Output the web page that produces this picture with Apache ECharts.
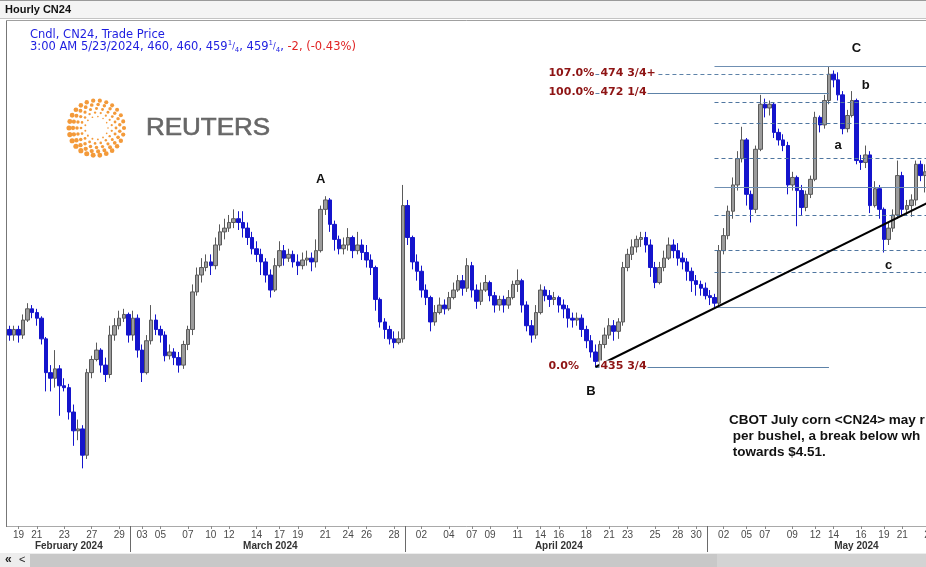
<!DOCTYPE html>
<html><head><meta charset="utf-8">
<script src="https://cdn.jsdelivr.net/npm/echarts@6.0.0/dist/echarts.min.js"></script>
<style>html,body{margin:0;padding:0;background:#fff}#c{width:926px;height:567px}</style>
</head><body><div id="c"></div>
<script>
// ---------- DATA ----------
// trading dates shown on the axis and how many candle slots each one spans
const dayDefs = [
 ['02-16',2],['02-19',1],['02-20',3],['02-21',3],['02-22',3],['02-23',2],['02-25',1],['02-26',3],['02-27',3],['02-28',3],['02-29',3],
 ['03-01',2],['03-03',1],['03-04',3],['03-05',3],['03-06',3],['03-07',3],['03-08',2],['03-10',1],['03-11',3],['03-12',3],['03-13',3],['03-14',3],['03-15',2],['03-17',1],['03-18',3],['03-19',3],['03-20',3],['03-21',3],['03-22',2],['03-24',1],['03-25',3],['03-26',3],['03-27',3],['03-28',2],['03-31',1],
 ['04-01',3],['04-02',3],['04-03',3],['04-04',3],['04-05',2],['04-07',1],['04-08',3],['04-09',3],['04-10',3],['04-11',3],['04-12',2],['04-14',1],['04-15',3],['04-16',3],['04-17',3],['04-18',3],['04-19',2],['04-21',1],['04-22',3],['04-23',3],['04-24',3],['04-25',3],['04-26',2],['04-28',1],['04-29',3],['04-30',3],
 ['05-01',3],['05-02',3],['05-03',2],['05-05',1],['05-06',3],['05-07',3],['05-08',3],['05-09',3],['05-10',2],['05-12',1],['05-13',3],['05-14',3],['05-15',3],['05-16',3],['05-17',2],['05-19',1],['05-20',3],['05-21',3],['05-22',3],['05-23',1]
];
const labelDays = ['02-19','02-21','02-23','02-27','02-29','03-03','03-05','03-07','03-10','03-12','03-14','03-17','03-19','03-21','03-24','03-26','03-28',
 '04-02','04-04','04-07','04-09','04-11','04-14','04-16','04-18','04-21','04-23','04-25','04-28','04-30',
 '05-02','05-05','05-07','05-09','05-12','05-14','05-16','05-19','05-21','05-23'];
const monthStarts = ['03-01','04-01','05-01'];
const monthLabels = [['February 2024','02-23.1'],['March 2024','03-15.0'],['April 2024','04-16.0'],['May 2024','05-15.2']];

const opens = [440.75,440,440.75,440,442,443.5,443,442.25,439.5,435,
434.25,435.5,433.25,433,429.75,427.25,427.5,424,435,436.75,
438,436,434.75,440,441.25,442.25,442.75,440,442.25,438,
435,439.25,442,440.75,440,437.25,437.75,437,436,438.75,
440.75,445.75,448,449,449.75,449.25,452,453.75,454.25,455,
455.5,455,454.25,453,451.5,450.75,449.75,448,446,449.25,
451.25,450.25,450.75,449.75,449.25,450,450.25,449.75,451.25,456.75,
458,454.75,452.75,451.5,452,453,451.25,452,451,450,
449,444.75,441.75,440.75,439.5,439,439.5,457.25,453,449.75,
448.5,446,445,441.75,443,444,443.5,445,446,447.25,
446.25,449.25,446,444.5,446,447,445.25,444,444.75,444,
445,446.75,447.25,444,441.25,440,443,446,445.25,444.75,
445,444,443.5,442.25,442,442.25,440.75,439.25,437.75,436.5,
438.75,440,441.25,440.5,441.75,449,450.75,451.75,452.75,453,
452,449,447,449,450.25,452,451.25,450.25,449.75,448.5,
447.25,446.75,446.25,445.25,445,444.25,451.25,453.25,456.5,460,
463.5,466,458.75,456.75,464.75,470.75,470.25,470.75,467,466,
465.25,460,461,459.25,457,458.75,460.75,469,468,471.25,
474.75,474,472,467.5,469.25,471.25,463.25,463,464,457.25,
459.5,456.75,452.75,454.25,456,461.25,456.75,457.25,458,462.75,
461.25,461.75];
const closes = [440,440.75,440,442,443.5,443,442.25,439.5,435,434.25,
435.5,433.25,433,429.75,427.25,427.5,424,435,436.75,438,
436,434.75,440,441.25,442.25,442.75,440,442.25,438,435,
439.25,442,440.75,440,437.25,437.75,437,436,438.75,440.75,
445.75,448,449,449.75,449.25,452,453.75,454.25,455,455.5,
455,454.25,453,451.5,450.75,449.75,448,446,449.25,451.25,
450.25,450.75,449.75,449.25,450,450.25,449.75,451.25,456.75,458,
454.75,452.75,451.5,452,453,451.25,452,451,450,449,
444.75,441.75,440.75,439.5,439,439.5,457.25,453,449.75,448.5,
446,445,441.75,443,444,443.5,445,446,447.25,446.25,
449.25,446,444.5,446,447,445.25,444,444.75,444,445,
446.75,447.25,444,441.25,440,443,446,445.25,444.75,445,
444,443.5,442.25,442,442.25,440.75,439.25,437.75,436.5,438.75,
440,441.25,440.5,441.75,449,450.75,451.75,452.75,453,452,
449,447,449,450.25,452,451.25,450.25,449.75,448.5,447.25,
446.75,446.25,445.25,445,444.25,451.25,453.25,456.5,460,463.5,
466,458.75,456.75,464.75,470.75,470.25,470.75,467,466,465.25,
460,461,459.25,457,458.75,460.75,469,468,471.25,474.75,
474,472,467.5,469.25,471.25,463.25,463,464,457.25,459.5,
456.75,452.75,454.25,456,461.25,456.75,457.25,458,462.75,461.25,
461.75,460];
const lows = [439.25,439.25,439,439.5,441.75,442.25,441.25,438.75,432.5,432.5,
433,429.25,432.5,428.75,425.25,426,422.25,423.5,434.25,436.5,
435,433.75,434.25,439.25,440.75,441.75,439,439.25,437,433.75,
434.75,438.75,440,439,436.5,436.75,436,435,435.5,438,
440,445.25,447,448.5,448,448.75,451.25,452.75,453.75,454.25,
454,453,452,450.75,449.75,448,447,445,445.75,449,
449.25,449.75,449,448,448.75,449.25,448.5,449,451,456,
453.75,451.25,450.75,450.75,451.25,450.25,450.75,450,449,448,
443.25,441,439.5,438.75,438.25,438.75,439,452,448.75,447.25,
445,444,440.5,441.25,442.75,442.75,443.25,444.75,445.75,445.25,
445.75,445,443.5,444,445.75,444.5,443,443.25,443,443.5,
444.75,445.75,443,440.5,439,439.5,442.75,444.5,443.75,444,
443,442.25,441,441,441.25,439.75,438.25,437,435.75,435.75,
438.25,439.5,439.25,439.5,441.25,448.5,450,451,451.75,451,
447.75,446.25,446.75,448.5,450,450.25,449.25,448.75,447.25,445.75,
445.25,445.25,444.75,444,443.75,443.75,450.75,452.75,455.5,459.25,
463,457.25,455,456.25,464.5,469,469.25,466.25,465.25,464.5,
458.75,459.25,454.5,456,456.5,458.25,460.5,467,467.5,470.75,
473,471.25,466.75,467,469,462.75,462,462.25,456.25,457,
455.5,451,452,453.75,455.5,456,456,455.75,457.25,460.5,
459,459.25];
const highs = [441.25,441.25,441.25,442.75,444.25,444,443.5,442.5,439.75,436,
438,436,434.25,433.5,430.75,428.75,428,435.5,437.25,439,
438.25,437,441.25,442.25,443.25,443.5,443,443.25,442.75,438.75,
440,444,442.75,441.25,440.5,438.75,438.25,437.75,439.25,441.25,
446.75,449,450.25,450.75,450.75,453,454.75,455.5,456,456.75,
456.5,456.5,455,453.75,452.5,451.5,450.25,448.75,450.25,452.5,
452,451.5,451.25,450.75,451,451.25,451,452.75,457.25,458.5,
458.25,455.25,453.25,453,454.25,453.25,453.75,452.75,452,450.75,
449.25,445,442.25,441.25,440.5,440.5,460,458,453.25,450.75,
449.25,446.75,445.25,444,445,444.75,445.75,447,448,448,
450.25,449.75,446.75,447,448,447.25,445.75,445.25,445.25,446,
447.25,448.75,447.5,444.5,442,444,446.75,446.5,446,445.75,
445.25,444.75,444,443,443,442.75,441.25,440,438.75,439.25,
441,442.25,442,442.25,449.75,451.5,452.75,453.25,453.75,453.75,
452.75,449.75,449.75,451.25,453,452.75,452.25,451,450.25,449,
448,447.25,447,446,445.5,452,454.25,457.25,461,464.5,
467.75,466.25,459.25,465.25,472,471.5,471.25,471,467.5,466.75,
465.75,461.75,461.25,460,459.25,461.25,469.75,469.25,472,475.75,
475.25,475,472.5,470,472.5,471.5,464,465.25,464.5,460.5,
460,457,455,456.75,463.25,461.75,458,458.75,463.25,463.25,
462.75,462.25];

// Fibonacci swing B -> C (0 %, 100 %, 107 %)
const fibB = {from:'04-18.2', to:'05-13.2', low:435.75, high:472.25};
const fibBLevels = [[0,'0.0%','435 3/4'],[1,'100.0%','472 1/4'],[1.07,'107.0%','474 3/4+']];
// Fibonacci retracement of the rally from the 1 May low to the C top
const fib2 = {from:'05-01.1', to:'05-23.0', low:443.75, high:475.75};
const fib2Ratios = [0,0.146,0.236,0.382,0.5,0.618,0.764,0.854,1];
// trend line from B
const trend = [['04-18.2',435.75],['05-23.0',457.75]];
// Elliott wave letters
const waveLabels = [['A','03-20.2',460.75],['B','04-18.1',432.5],['C','05-15.2',478.25],['a','05-14.1',465.25],['b','05-16.1',473.25],['c','05-20.0',449.25]];
const headerLine1 = 'Cndl, CN24, Trade Price';
const noteLines = ['CBOT July corn <CN24> may r',' per bushel, a break below wh',' towards $4.51.'];

// ---------- BUILD ----------
const cats = [];
dayDefs.forEach(([d,n]) => { for (let k = 0; k < n; k++) cats.push(d + '.' + k); });
const labelSet = new Set(labelDays.map(d => d + '.0'));
const monthStartSet = new Set(monthStarts.map(d => d + '.0'));
const monthLabelMap = Object.fromEntries(monthLabels.map(([t,c]) => [c,t]));
const candles = opens.map((o,i) => [o, closes[i], lows[i], highs[i]]);

const FIBC = '#5d82a8', FIBTXT = '#8e1414';
const fibLines = [];
const fibTexts = [];
fibBLevels.forEach(([r,pct,price]) => {
  const v = fibB.low + r * (fibB.high - fibB.low);
  fibLines.push([{coord:[fibB.from, v], lineStyle:{color:FIBC, width:1, type: r === 1.07 ? [4,3] : 'solid'}}, {coord:[fibB.to, v]}]);
  fibTexts.push({coord:[fibB.from, v], label:{formatter:pct, position:[-46.5,0]}});
  fibTexts.push({coord:[fibB.from, v], label:{formatter:price, position:[4.5,0], backgroundColor:'#ffffff', padding:[1,1,0,1]}});
});
fib2Ratios.forEach(r => {
  const v = fib2.low + r * (fib2.high - fib2.low);
  const solid = (r === 0 || r === 0.5 || r === 1);
  fibLines.push([{coord:[fib2.from, v], lineStyle:{color: solid ? '#6f8fb2' : '#4f76a0', width:1, type: solid ? 'solid' : [4,3]}}, {coord:[fib2.to, v]}]);
});

// Reuters logo dots
const logo = [];
const LX = 96.5, LY = 128;
[[11.5,13,0.9],[15.5,17,1.25],[19.5,20,1.6],[23.5,23,1.95],[27.5,26,2.3]].forEach(([r,n,s],ri) => {
  for (let k = 0; k < n; k++) {
    const a = (k + (ri % 2) * 0.5) / n * Math.PI * 2;
    const f = 1 + 0.12 * Math.cos(a - Math.PI * 0.8);
    logo.push({type:'circle', silent:true, z:5, shape:{cx: LX + r * Math.cos(a), cy: LY + r * Math.sin(a), r: s * f}, style:{fill:'#f39a3a'}});
  }
});

const chart = echarts.init(document.getElementById('c'), null, {renderer:'canvas'});
const option = {
  animation:false,
  backgroundColor:'#ffffff',
  grid:{left:7, right:-6, top:30, bottom:41, outerBoundsMode:'none', containLabel:false},
  xAxis:[{
    type:'category', data:cats, boundaryGap:true,
    axisLine:{show:true, lineStyle:{color:'#a9a9a9', width:1}},
    axisTick:{show:true, interval:(i,v) => labelSet.has(v), alignWithLabel:true, length:3, lineStyle:{color:'#8a8a8a'}},
    axisLabel:{interval:(i,v) => labelSet.has(v), formatter:v => v.slice(3,5), color:'#4a4a4a', fontFamily:'Liberation Sans', fontSize:10, margin:4, hideOverlap:false},
    splitLine:{show:false}
  },{
    type:'category', data:cats, boundaryGap:true, position:'bottom',
    axisLine:{show:false},
    axisTick:{show:true, interval:(i,v) => monthStartSet.has(v), alignWithLabel:false, length:26, lineStyle:{color:'#6a6a6a'}},
    axisLabel:{interval:(i,v) => v in monthLabelMap, formatter:v => monthLabelMap[v] || '', color:'#333333', fontWeight:'bold', fontFamily:'Liberation Sans', fontSize:10, margin:15, hideOverlap:false},
    splitLine:{show:false}
  }],
  yAxis:{type:'value', min:414.57, max:480.64, show:false, splitLine:{show:false}},
  series:[{
    type:'scatter', data:[], z:1, silent:true,
    markLine:{silent:true, symbol:['none','none'], label:{show:false}, animation:false, data:fibLines}
  },{
    type:'candlestick', data:candles, barWidth:4, z:2,
    itemStyle:{color:'#9c9c9c', color0:'#1414cc', borderColor:'#5a5a5a', borderColor0:'#1414cc', borderWidth:1}
  },{
    type:'scatter', data:[], z:4, silent:true,
    markLine:{silent:true, symbol:['none','none'], label:{show:false}, animation:false,
      data:[[{coord:trend[0], lineStyle:{color:'#000', width:2, type:'solid'}}, {coord:trend[1]}]]}
  },{
    type:'scatter', data:[], z:6, silent:true,
    markPoint:{silent:true, symbol:'rect', symbolSize:1, itemStyle:{color:'rgba(0,0,0,0)'}, animation:false,
      label:{show:true, color:FIBTXT, fontFamily:'DejaVu Sans', fontWeight:'bold', fontSize:11, align:'left', verticalAlign:'middle'},
      data:fibTexts}
  },{
    type:'scatter', data:[], z:6, silent:true,
    markPoint:{silent:true, symbol:'rect', symbolSize:1, itemStyle:{color:'rgba(0,0,0,0)'}, animation:false,
      label:{show:true, position:'inside', color:'#111', fontFamily:'Liberation Sans', fontWeight:'bold', fontSize:13},
      data:waveLabels.map(([t,c,v]) => ({coord:[c,v], label:{formatter:t}}))}
  }],
  graphic:[
    {type:'rect', z:-5, silent:true, shape:{x:0,y:0,width:926,height:19}, style:{fill:'#f4f4f4'}},
    {type:'line', z:10, silent:true, shape:{x1:0,y1:0.5,x2:926,y2:0.5}, style:{stroke:'#9a9a9a', lineWidth:1}},
    {type:'line', z:10, silent:true, shape:{x1:0,y1:18.5,x2:926,y2:18.5}, style:{stroke:'#c4c4c4', lineWidth:1}},
    {type:'line', z:10, silent:true, shape:{x1:6.5,y1:20.5,x2:926,y2:20.5}, style:{stroke:'#a0a0a0', lineWidth:1}},
    {type:'line', z:10, silent:true, shape:{x1:6.5,y1:20.5,x2:6.5,y2:527}, style:{stroke:'#777777', lineWidth:1}},
    {type:'text', z:10, silent:true, x:5, y:10, style:{text:'Hourly CN24', fill:'#111', font:'bold 11px "Liberation Sans"', verticalAlign:'middle'}},
    {type:'text', z:10, silent:true, x:30, y:35, style:{text:headerLine1, fill:'#1d1de0', font:'11.5px "DejaVu Sans"', verticalAlign:'middle'}},
    {type:'text', z:10, silent:true, x:30, y:47, style:{
      text:'{b|3:00 AM 5/23/2024, 460, 460, 459}{s|1}{f|/}{u|4}{b|, 459}{s|1}{f|/}{u|4}{b|, }{r|-2, (-0.43%)}',
      verticalAlign:'middle',
      rich:{
        b:{fill:'#1d1de0', fontFamily:'DejaVu Sans', fontSize:11.5, lineHeight:14},
        s:{fill:'#1d1de0', fontFamily:'DejaVu Sans', fontSize:7, lineHeight:14, verticalAlign:'top'},
        f:{fill:'#1d1de0', fontFamily:'DejaVu Sans', fontSize:8, lineHeight:14},
        u:{fill:'#1d1de0', fontFamily:'DejaVu Sans', fontSize:7, lineHeight:14, verticalAlign:'bottom'},
        r:{fill:'#e02424', fontFamily:'DejaVu Sans', fontSize:11.5, lineHeight:14}
      }}},
    ...logo,
    {type:'text', z:5, silent:true, x:146, y:129, scaleX:1.13, style:{text:'REUTERS', fill:'#666666', stroke:'#666666', lineWidth:0.6, font:'23px "Liberation Sans"', verticalAlign:'middle'}},
    {type:'text', z:10, silent:true, x:729, y:412, style:{text:noteLines.join('\n'), fill:'#111', font:'bold 13.5px "Liberation Sans"', lineHeight:16}},
    {type:'rect', z:8, silent:true, shape:{x:0,y:553,width:926,height:14}, style:{fill:'#ededed'}},
    {type:'rect', z:9, silent:true, shape:{x:30,y:554,width:687,height:13}, style:{fill:'#c8c8c8'}},
    {type:'rect', z:9, silent:true, shape:{x:717,y:554,width:209,height:13}, style:{fill:'#d3d3d3'}},
    {type:'text', z:10, silent:true, x:5, y:560, style:{text:'«', fill:'#222', font:'bold 12px "Liberation Sans"', verticalAlign:'middle'}},
    {type:'text', z:10, silent:true, x:19, y:560, style:{text:'<', fill:'#222', font:'11px "Liberation Sans"', verticalAlign:'middle'}}
  ]
};
chart.setOption(option);
</script></body></html>
